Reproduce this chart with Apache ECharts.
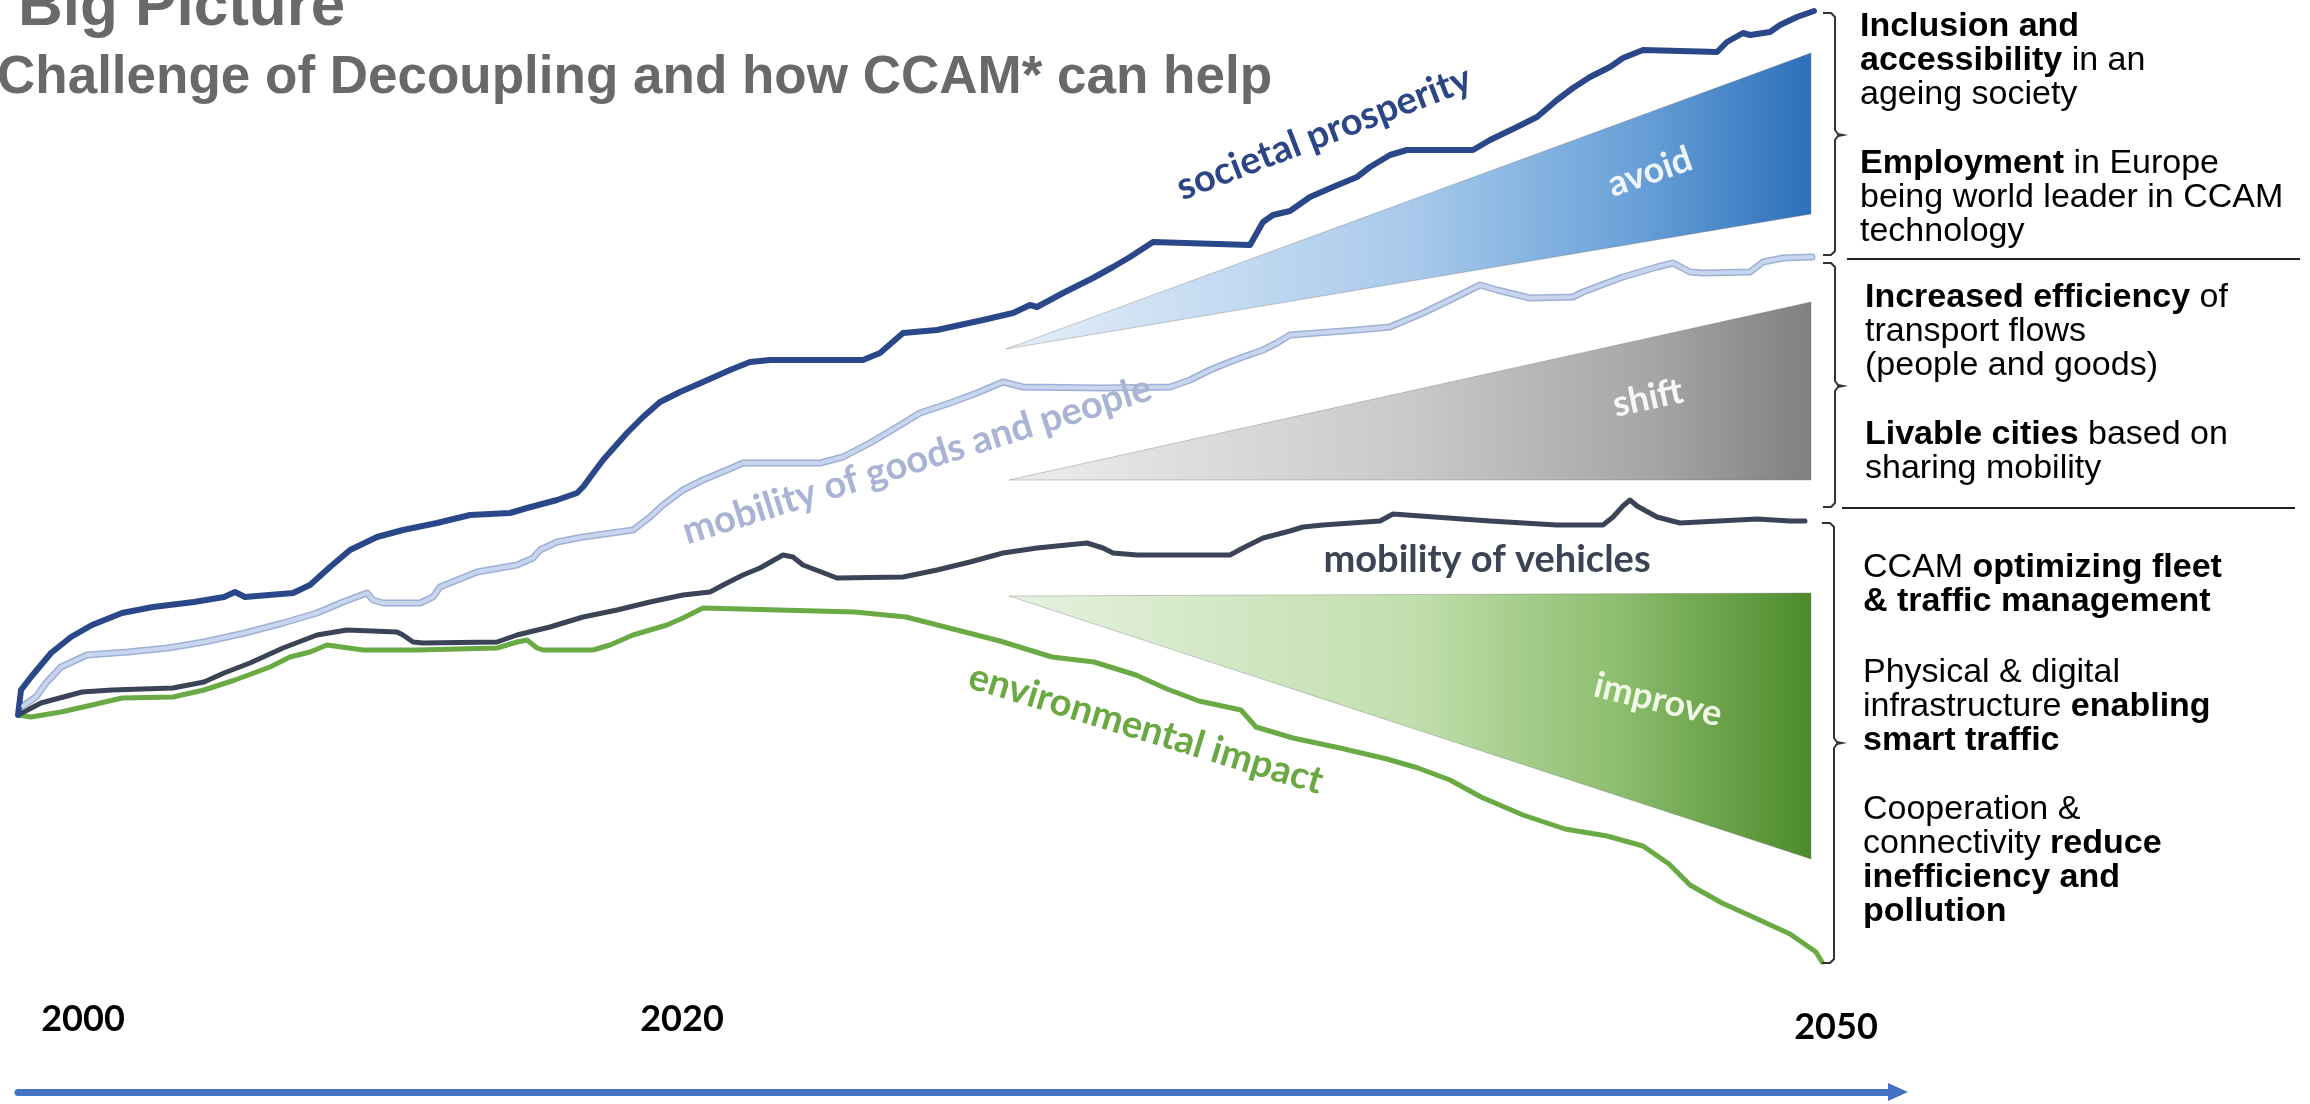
<!DOCTYPE html>
<html><head><meta charset="utf-8">
<script src="https://cdn.jsdelivr.net/npm/echarts@6/dist/echarts.min.js"></script>
<style>html,body{margin:0;padding:0;background:#fff}#c{width:2310px;height:1104px}</style>
</head><body><div id="c"></div>
<script>
// x: position along the 2000 -> 2050 timeline arrow (0..188), y: relative level (0..109)
const societalProsperity = [[0,37.7],[0.3,40.2],[1.3,41.5],[3.3,43.9],[5.3,45.5],[7.4,46.7],[10.4,47.9],[13.5,48.5],[17.6,49.0],[20.6,49.5],[21.7,50.0],[22.7,49.5],[27.5,49.9],[29.2,50.7],[31.2,52.5],[33.2,54.2],[35.9,55.5],[38.5,56.2],[41.9,56.9],[45.2,57.7],[49.2,57.9],[50.9,58.4],[53.9,59.2],[55.9,59.9],[56.5,60.5],[58.5,63.2],[60.9,65.9],[62.5,67.5],[64.2,69.0],[66.2,70.0],[68.5,71.0],[71.2,72.2],[73.2,73.0],[75.2,73.2],[84.5,73.2],[86.2,73.9],[88.5,75.9],[91.9,76.2],[96.5,77.2],[99.5,77.9],[101.2,78.7],[101.9,78.5],[104.5,79.9],[107.5,81.4],[109.5,82.5],[111.2,83.5],[113.5,85.0],[123.2,84.7],[124.5,87.0],[125.5,87.7],[127.2,88.1],[129.2,89.5],[131.5,90.5],[133.9,91.5],[135.2,92.5],[137.2,93.7],[138.9,94.2],[145.5,94.2],[147.2,95.2],[149.9,96.5],[151.9,97.5],[153.9,99.2],[155.5,100.4],[157.2,101.5],[159.2,102.5],[160.5,103.4],[162.5,104.2],[169.9,104.0],[170.9,105.0],[172.5,105.9],[173.2,105.7],[175.2,106.0],[176.2,106.7],[177.9,107.5],[179.6,108.1]];
const mobilityGoodsPeople = [[0.5,38.6],[1.8,39.5],[2.8,40.9],[4.3,42.5],[6.9,43.7],[11.0,44.0],[15.0,44.4],[18.6,45.0],[22.7,45.9],[26.5,46.9],[29.9,47.9],[32.5,49.0],[34.9,49.9],[35.5,49.2],[36.5,48.9],[40.2,48.9],[41.5,49.5],[42.2,50.5],[45.9,52.0],[49.9,52.7],[51.5,53.4],[52.2,54.2],[53.9,55.0],[56.5,55.5],[61.5,56.2],[63.2,57.5],[64.5,58.7],[66.5,60.2],[68.5,61.2],[70.9,62.2],[72.5,62.9],[80.2,62.9],[82.5,63.5],[85.2,64.9],[87.9,66.5],[90.2,67.9],[93.2,68.9],[95.9,69.9],[98.5,71.0],[100.5,70.5],[108.5,70.4],[115.2,70.5],[117.2,71.2],[119.2,72.2],[120.9,72.9],[122.5,73.5],[124.5,74.2],[125.9,74.9],[127.2,75.7],[133.9,76.2],[137.2,76.5],[140.5,77.9],[143.2,79.2],[146.2,80.7],[147.9,80.2],[151.2,79.4],[155.5,79.5],[156.5,80.0],[160.5,81.5],[163.9,82.5],[165.5,82.9],[167.2,82.0],[168.5,81.9],[173.2,82.0],[174.5,83.0],[176.5,83.4],[179.4,83.5]];
const mobilityVehicles = [[0,37.7],[2.3,38.9],[6.4,40.0],[9.4,40.2],[15.5,40.4],[18.6,41.0],[20.6,41.9],[23.2,42.9],[26.5,44.4],[29.9,45.7],[32.9,46.2],[37.9,46.0],[38.5,45.7],[39.5,45.0],[40.5,44.9],[47.9,45.0],[49.9,45.7],[53.2,46.5],[56.5,47.5],[59.9,48.2],[63.2,49.0],[66.5,49.7],[69.2,50.0],[70.9,50.9],[72.5,51.7],[74.2,52.4],[76.5,53.7],[77.5,53.5],[78.5,52.7],[81.9,51.4],[88.5,51.5],[91.9,52.2],[95.2,53.0],[98.5,53.9],[101.9,54.4],[106.9,54.9],[108.5,54.4],[109.5,53.9],[111.9,53.7],[121.2,53.7],[122.5,54.4],[124.5,55.4],[127.2,56.1],[128.5,56.5],[130.5,56.7],[136.2,57.1],[137.5,57.8],[147.2,57.1],[153.9,56.7],[158.5,56.7],[159.5,57.5],[160.5,58.6],[161.2,59.2],[161.9,58.6],[163.9,57.5],[166.2,56.9],[173.9,57.3],[177.2,57.1],[178.7,57.1]];
const environmentalImpact = [[0,37.7],[1.3,37.5],[4.3,38.0],[7.4,38.7],[10.4,39.4],[15.5,39.5],[18.6,40.2],[21.7,41.2],[25.2,42.5],[27.2,43.5],[29.2,44.0],[30.9,44.7],[34.5,44.2],[39.9,44.2],[47.9,44.4],[49.9,45.0],[50.9,45.2],[51.9,44.4],[52.5,44.2],[57.5,44.2],[59.2,44.7],[61.5,45.7],[64.9,46.7],[66.5,47.4],[68.5,48.4],[83.7,48.0],[88.8,47.5],[93.9,46.2],[98.2,45.1],[103.4,43.5],[107.6,43.0],[111.8,41.7],[114.9,40.3],[118.1,39.1],[122.3,38.2],[123.8,36.5],[127.5,35.4],[132.2,34.4],[136.9,33.3],[140.0,32.4],[143.2,31.2],[146.3,29.5],[150.5,27.7],[154.7,26.3],[158.9,25.6],[162.5,24.6],[165.1,22.8],[167.2,20.7],[170.4,18.9],[173.5,17.5],[177.2,15.8],[179.8,14.0],[180.4,13.0]];
const wedgeAvoid = [[98.8,74.3],[179.3,103.9],[179.3,87.8]];
const wedgeShift = [[99.1,61.2],[179.3,79.0],[179.3,61.2]];
const wedgeImprove = [[99.1,49.6],[179.3,49.9],[179.3,23.3]];
const yearLabels = ['2000','2020','2050'];
const yearLabelAt = [6.5, 66.4, 181.8];

// label anchors (chart units) – layout, not data
const lineLabels = ['societal prosperity','mobility of goods and people','mobility of vehicles','environmental impact'];
const lineLabelLayout = [
  {at:[130.6,95.9], rot:21, color:'#2b4586'},
  {at:[89.9,63.2], rot:17.3, color:'#a9b3d3'},
  {at:[146.9,53.2], rot:0, color:'#3c4353'},
  {at:[112.8,36.3], rot:-16.9, color:'#6aa842'}
];
const wedgeLabels = ['avoid','shift','improve'];
const wedgeLabelLayout = [
  {at:[163.2,92.0], rot:19, color:'rgba(255,255,255,0.9)'},
  {at:[163.0,69.4], rot:12, color:'rgba(255,255,255,0.92)'},
  {at:[164.0,39.2], rot:-13.5, color:'rgba(248,255,240,0.92)'}
];

const chart = echarts.init(document.getElementById('c'), null, {renderer:'canvas'});
const LBL = 'Lato, "Open Sans", sans-serif';
const ARIAL = '"Liberation Sans", Arial, sans-serif';

function wedge(points, stops, idx) {
  return {
    type:'custom', coordinateSystem:'cartesian2d', z:1, silent:true, clip:false,
    data:[points[0]],
    renderItem(params, api) {
      const pts = points.map(p => api.coord(p));
      const L = wedgeLabelLayout[idx];
      const c = api.coord(L.at);
      return {type:'group', children:[
        {type:'polygon', shape:{points:pts}, style:{fill:new echarts.graphic.LinearGradient(0,0,1,0,stops.map(s=>({offset:s[0],color:s[1]}))), stroke:'rgba(110,110,110,0.35)', lineWidth:1}},
        {type:'text', x:c[0], y:c[1], rotation:L.rot*Math.PI/180, style:{text:wedgeLabels[idx], fill:L.color, fontSize:36, fontWeight:'bold', fontFamily:LBL, align:'center', verticalAlign:'middle'}}
      ]};
    }
  };
}
function lineSeries(name, data, color, width, z) {
  return {type:'line', name, data, symbol:'none', smooth:false, z, silent:true,
    lineStyle:{color, width, cap:'round', join:'round'}};
}

const rich = {
  b:{fontWeight:'bold', fontSize:34, fontFamily:ARIAL, lineHeight:34, fill:'#000', color:'#000'},
  n:{fontWeight:'normal', fontSize:34, fontFamily:ARIAL, lineHeight:34, fill:'#000', color:'#000'}
};
function para(x, y, lines) {
  return {type:'text', x, y, z:10, style:{text:lines.join('\n'), rich, fontSize:34, fontFamily:ARIAL, lineHeight:34, fill:'#000', verticalAlign:'top', align:'left'}};
}
function brace(L, V, N, top, mid, bot) {
  return {type:'polyline', z:10, shape:{points:[[L,top],[V-4,top],[V,top+4],[V,mid-5],[V+3,mid-1],[N,mid],[V+3,mid+1],[V,mid+5],[V,bot-4],[V-4,bot],[L,bot]]}, style:{stroke:'#333', lineWidth:2, fill:null}};
}

chart.setOption({
  animation:false,
  backgroundColor:'#fff',
  title:[
    {text:'Big Picture', left:18, top:-23, padding:0, textStyle:{fontFamily:ARIAL, fontWeight:'bold', fontSize:62, color:'#696969'}},
    {text:'Challenge of Decoupling and how CCAM* can help', left:-3, top:52, padding:0, textStyle:{fontFamily:ARIAL, fontWeight:'bold', fontSize:53, color:'#696969'}}
  ],
  grid:{left:18, right:412, top:2, bottom:12, containLabel:false},
  xAxis:{type:'value', min:0, max:188,
    axisLine:{show:true, onZero:false, symbol:['none','triangle'], symbolSize:[18,20], lineStyle:{color:'#4472c4', width:7}},
    axisTick:{show:false}, splitLine:{show:false},
    axisLabel:{show:true, inside:true, margin:55, customValues:yearLabelAt,
      formatter:(v)=>{const i = yearLabelAt.indexOf(v); if(i<0) return ''; return (i===yearLabels.length-1?'{last|':'{y|')+yearLabels[i]+'}';},
      rich:{y:{fontFamily:LBL, fontWeight:'bold', fontSize:36, lineHeight:36, color:'#000'}, last:{fontFamily:LBL, fontWeight:'bold', fontSize:36, lineHeight:20, color:'#000'}},
      color:'#000'}
  },
  yAxis:{type:'value', min:0, max:109, show:false},
  series:[
    wedge(wedgeAvoid, [[0,'#e4eef8'],[0.5,'#a9caeb'],[0.78,'#6aa1d8'],[1,'#2d70bb']], 0),
    wedge(wedgeShift, [[0,'#ededed'],[0.5,'#c9c9c9'],[0.8,'#a6a6a6'],[1,'#808080']], 1),
    wedge(wedgeImprove, [[0,'#e6f1df'],[0.5,'#c2dfae'],[0.75,'#8fbf70'],[1,'#4c8a2c']], 2),
    lineSeries('environmental impact', environmentalImpact, '#6aaa45', 5, 3),
    lineSeries('mobility of vehicles', mobilityVehicles, '#3b4456', 5, 3),
    lineSeries('mobility of goods and people', mobilityGoodsPeople, '#9fb0d4', 7, 3),
    lineSeries('mobility of goods and people (core)', mobilityGoodsPeople, '#c8d5ef', 4, 4),
    lineSeries('societal prosperity', societalProsperity, '#2a4889', 6, 3),
    {type:'custom', coordinateSystem:'cartesian2d', z:5, silent:true, clip:false,
      data:lineLabelLayout.map(l=>l.at),
      renderItem(params, api){
        const L = lineLabelLayout[params.dataIndex];
        const c = api.coord(L.at);
        return {type:'text', x:c[0], y:c[1], rotation:L.rot*Math.PI/180,
          style:{text:lineLabels[params.dataIndex], fill:L.color, fontSize:38, fontWeight:'bold', fontFamily:LBL, align:'center', verticalAlign:'middle'}};
      }}
  ],
  graphic:[
    brace(1823,1835,1843,13,135,255),
    brace(1823,1835,1843,263,386,507),
    brace(1822,1834,1842,523,743,963),
    {type:'line', z:10, shape:{x1:1847,y1:259,x2:2300,y2:259}, style:{stroke:'#222', lineWidth:2}},
    {type:'line', z:10, shape:{x1:1842,y1:508,x2:2295,y2:508}, style:{stroke:'#222', lineWidth:2}},
    para(1860, 10, ['{b|Inclusion and}','{b|accessibility}{n| in an}','{n|ageing society}']),
    para(1860, 147, ['{b|Employment}{n| in Europe}','{n|being world leader in CCAM}','{n|technology}']),
    para(1865, 281, ['{b|Increased efficiency}{n| of}','{n|transport flows}','{n|(people and goods)}']),
    para(1865, 418, ['{b|Livable cities}{n| based on}','{n|sharing mobility}']),
    para(1863, 551, ['{n|CCAM }{b|optimizing fleet}','{b|& traffic management}']),
    para(1863, 656, ['{n|Physical & digital}','{n|infrastructure }{b|enabling}','{b|smart traffic}']),
    para(1863, 793, ['{n|Cooperation &}','{n|connectivity }{b|reduce}','{b|inefficiency and}','{b|pollution}'])
  ]
});
</script></body></html>
